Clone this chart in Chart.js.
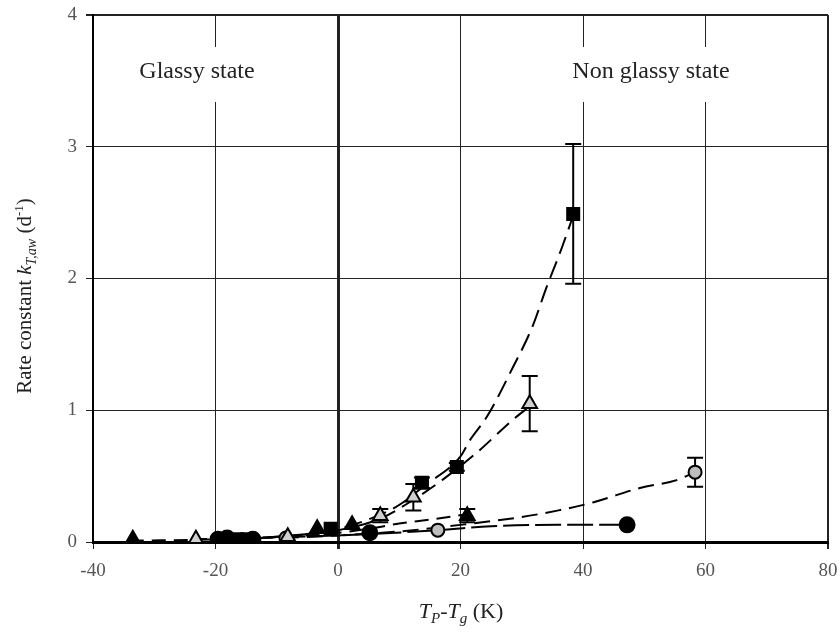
<!DOCTYPE html>
<html>
<head>
<meta charset="utf-8">
<script src="https://cdn.jsdelivr.net/npm/chart.js@4/dist/chart.umd.min.js"></script>
<style>
  body { margin: 0; background: #fff; }
  #wrap { width: 840px; height: 637px; }
</style>
</head>
<body>
<div id="wrap"><canvas id="c" width="840" height="637"></canvas></div>
<script>
/* ====== data ====== */
// filled squares
const sqX = [-16.5, -14.8, -1.2, 13.7, 19.4, 38.4];
const sqY = [0.02, 0.02, 0.10, 0.45, 0.57, 2.49];
const sqErr = [0, 0, 0, 0.04, 0.03, 0.53];
// open (light) triangles
const otX = [-23.2, -8.2, 6.9, 12.3, 31.3];
const otY = [0.02, 0.04, 0.20, 0.34, 1.05];
const otErr = [0, 0, 0.05, 0.10, 0.21];
// filled triangles
const ftX = [-33.5, -3.4, 2.3, 21.1];
const ftY = [0.02, 0.10, 0.13, 0.20];
const ftErr = [0, 0, 0, 0.05];
// grey circles
const gcX = [-8.5, 16.3, 58.3];
const gcY = [0.03, 0.09, 0.53];
const gcErr = [0, 0, 0.11];
// black circles
const bcX = [-19.6, -18.1, -13.9, 5.2, 47.2];
const bcY = [0.02, 0.03, 0.02, 0.07, 0.13];

// fitted curves
const sqFitX = [-20, -10, 0, 8, 10.6, 13.9, 20, 21.5, 24.3, 28.6, 31.7, 34.1, 36.2, 38.2];
const sqFitY = [0.02, 0.04, 0.10, 0.23, 0.30, 0.42, 0.65, 0.77, 0.95, 1.33, 1.63, 1.94, 2.19, 2.45];
const otFitX = [-24, -10, 0, 7, 12.3, 17, 22.7, 28.6, 31.3];
const otFitY = [0.02, 0.04, 0.09, 0.18, 0.32, 0.47, 0.68, 0.93, 1.03];
const ftFitX = [-34, -20, -5, 0, 5, 10, 15, 21];
const ftFitY = [0.01, 0.02, 0.05, 0.07, 0.10, 0.14, 0.17, 0.21];
const gcFitX = [-9, 0, 10, 20, 30, 36, 41.6, 49.3, 55.3, 58.3];
const gcFitY = [0.03, 0.05, 0.08, 0.13, 0.19, 0.24, 0.30, 0.41, 0.47, 0.53];
const bcFitX = [-20, 5.2, 16.3, 25, 36, 47.2];
const bcFitY = [0.02, 0.06, 0.09, 0.12, 0.13, 0.13];

const xTicks = [-40, -20, 0, 20, 40, 60, 80];
const yTicks = [0, 1, 2, 3, 4];

const SERIF = "'Liberation Serif', 'DejaVu Serif', serif";
const pts = (xs, ys) => xs.map((x, i) => ({ x, y: ys[i] }));

function markers(xs, ys, style, fill, r) {
  return {
    data: pts(xs, ys),
    showLine: false,
    pointStyle: style,
    pointRadius: r,
    pointBackgroundColor: fill,
    pointBorderColor: "#000",
    pointBorderWidth: 2,
  };
}
function fitLine(xs, ys, dash) {
  return {
    data: pts(xs, ys),
    showLine: true,
    pointRadius: 0,
    borderColor: "#000",
    borderWidth: 2,
    borderDash: dash,
    cubicInterpolationMode: "monotone",
    fill: false,
  };
}

const errSets = [
  [sqX, sqY, sqErr],
  [otX, otY, otErr],
  [ftX, ftY, ftErr],
  [gcX, gcY, gcErr],
];

/* ====== plugin: error bars, region labels, axis titles ====== */
function richText(ctx, parts, cx, cy) {
  let w = 0;
  parts.forEach((p) => { ctx.font = p.f; w += ctx.measureText(p.t).width; });
  let x = cx - w / 2;
  parts.forEach((p) => {
    ctx.font = p.f;
    ctx.fillText(p.t, x, cy + (p.dy || 0));
    x += ctx.measureText(p.t).width;
  });
}

const extras = {
  id: "extras",
  beforeDatasetsDraw(chart) {
    const { ctx, scales: { x, y } } = chart;
    ctx.save();
    // white boxes behind the region labels
    ctx.fillStyle = "#fff";
    ctx.fillRect(126, 47, 146, 55);
    ctx.fillRect(556, 47, 190, 55);
    ctx.fillStyle = "#222";
    ctx.font = "24px " + SERIF;
    ctx.textAlign = "center";
    ctx.textBaseline = "middle";
    ctx.fillText("Glassy state", 197, 72);
    ctx.fillText("Non glassy state", 651, 72);
    // error bars
    ctx.strokeStyle = "#000";
    ctx.lineWidth = 2;
    errSets.forEach(([xs, ys, es]) => {
      xs.forEach((v, i) => {
        if (!es[i]) return;
        const px = x.getPixelForValue(v);
        const top = y.getPixelForValue(ys[i] + es[i]);
        const bot = y.getPixelForValue(ys[i] - es[i]);
        ctx.beginPath();
        ctx.moveTo(px, top); ctx.lineTo(px, bot);
        ctx.moveTo(px - 8, top); ctx.lineTo(px + 8, top);
        ctx.moveTo(px - 8, bot); ctx.lineTo(px + 8, bot);
        ctx.stroke();
      });
    });
    ctx.restore();
  },
  afterDraw(chart) {
    const ctx = chart.ctx;
    ctx.save();
    ctx.fillStyle = "#222";
    ctx.textAlign = "left";
    ctx.textBaseline = "alphabetic";
    // x title
    const n = "22px " + SERIF, it = "italic 22px " + SERIF, sm = "italic 15px " + SERIF;
    richText(ctx, [
      { t: "T", f: it }, { t: "P", f: sm, dy: 5 }, { t: "-", f: n },
      { t: "T", f: it }, { t: "g", f: sm, dy: 5 }, { t: " (K)", f: n },
    ], 461, 618);
    // y title
    const yn = "21px " + SERIF, yit = "italic 21px " + SERIF, ysm = "italic 14px " + SERIF, ysn = "13px " + SERIF;
    ctx.translate(31, 296);
    ctx.rotate(-Math.PI / 2);
    richText(ctx, [
      { t: "Rate constant ", f: yn }, { t: "k", f: yit }, { t: "T,aw", f: ysm, dy: 5 },
      { t: " (d", f: yn }, { t: "-1", f: ysn, dy: -8 }, { t: ")", f: yn },
    ], 0, 0);
    ctx.restore();
  },
};

/* ====== chart ====== */
let chart;
function createChart() {
  const ctx = document.getElementById("c").getContext("2d");
  chart = new Chart(ctx, {
    type: "scatter",
    data: {
      datasets: [
        markers(sqX, sqY, "rect", "#000", 8.5),
        markers(otX, otY, "triangle", "#cfcfcf", 8.5),
        markers(ftX, ftY, "triangle", "#000", 8.5),
        markers(gcX, gcY, "circle", "#bdbdbd", 6.5),
        markers(bcX, bcY, "circle", "#000", 7.5),
        fitLine(sqFitX, sqFitY, [18, 8]),
        fitLine(otFitX, otFitY, [16, 8]),
        fitLine(ftFitX, ftFitY, [14, 8]),
        fitLine(gcFitX, gcFitY, [16, 8]),
        fitLine(bcFitX, bcFitY, [26, 6]),
      ],
    },
    options: {
      responsive: false,
      animation: false,
      layout: { padding: { top: 15, right: 12, left: 0, bottom: 0 } },
      plugins: { legend: { display: false }, tooltip: { enabled: false } },
      scales: {
        x: {
          type: "linear",
          min: -40,
          max: 80,
          afterBuildTicks: (s) => { s.ticks = xTicks.map((v) => ({ value: v })); },
          afterFit: (s) => {
            s.height = 95;
            s.paddingLeft = 0;
            s.paddingRight = 0;
          },
          border: { color: "#000", width: 3 },
          grid: {
            color: "#222",
            lineWidth: (c) => (c.tick && c.tick.value === 0 ? 3 : c.tick && c.tick.value === 80 ? 2 : 1),
            tickLength: 7,
          },
          ticks: { color: "#555", padding: 11, font: { family: SERIF, size: 19 } },
        },
        y: {
          min: 0,
          max: 4,
          afterBuildTicks: (s) => { s.ticks = yTicks.map((v) => ({ value: v })); },
          afterFit: (s) => {
            s.width = 93;
            s.paddingTop = 0;
            s.paddingBottom = 0;
          },
          border: { color: "#000", width: 2 },
          grid: {
            color: "#222",
            lineWidth: (c) => (c.tick && c.tick.value === 4 ? 2 : 1),
            tickLength: 7,
          },
          ticks: { color: "#555", padding: 9, font: { family: SERIF, size: 19 } },
        },
      },
    },
    plugins: [extras],
  });
}

createChart();
</script>
</body>
</html>
